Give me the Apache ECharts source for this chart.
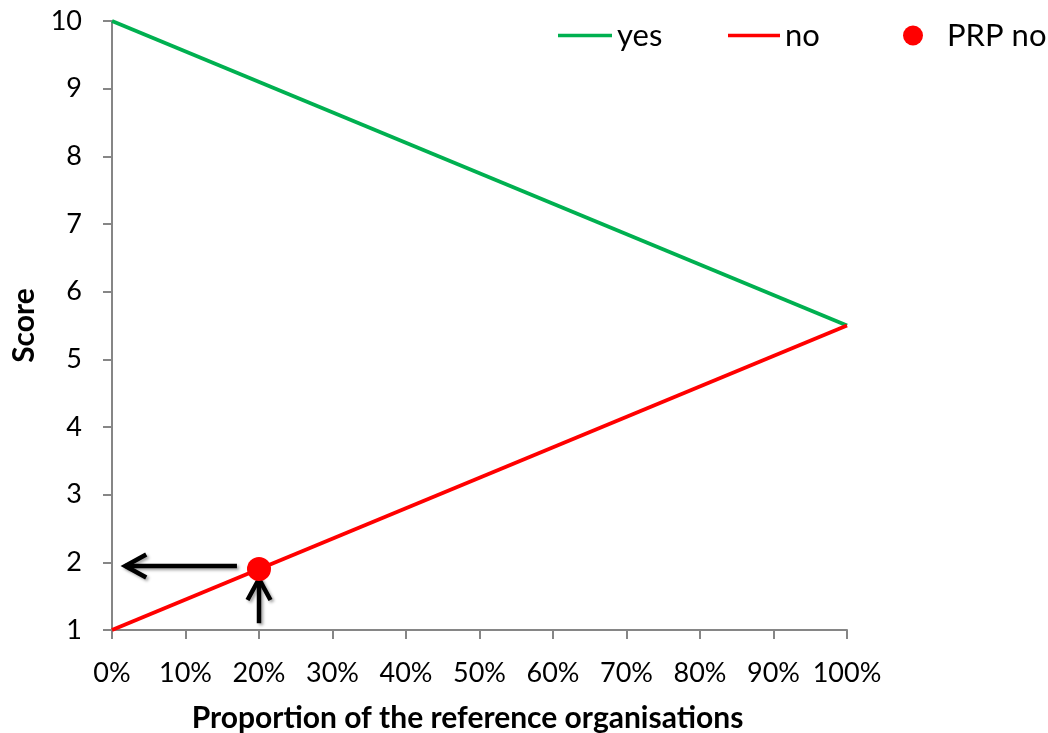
<!DOCTYPE html>
<html>
<head>
<meta charset="utf-8">
<script src="https://cdn.jsdelivr.net/npm/echarts@6/dist/echarts.min.js"></script>
<style>
html,body{margin:0;padding:0;background:#fff;}
#chart{width:1048px;height:733px;}
</style>
</head>
<body>
<div id="chart"></div>
<script>
// ---- data ----
const xPct = [0, 100];                 // proportion of reference organisations (%)
const yesScore = [10, 5.5];            // "yes" line
const noScore = [1, 5.5];              // "no" line
const prpNo = [20, 1.9];               // PRP no point [x%, score]
const arrowLines = [                   // annotation arrows [x1, y1, x2(tip), y2(tip)]
  [17, 1.946, 1.8, 1.946],
  [20, 1.10, 20, 1.754]
];
const xTickInterval = 10;
const yTickMin = 1, yTickMax = 10, yTickInterval = 1;
const seriesNames = ['yes', 'no', 'PRP no'];

const FONT = 'Lato';
const chart = echarts.init(document.getElementById('chart'), null, {renderer: 'canvas'});

function pairs(xs, ys){ return xs.map((x, i) => [x, ys[i]]); }

function renderArrow(params, api){
  const p1 = api.coord([api.value(0), api.value(1)]);
  const p2 = api.coord([api.value(2), api.value(3)]);
  const dx = p2[0] - p1[0], dy = p2[1] - p1[1];
  const len = Math.sqrt(dx*dx + dy*dy) || 1;
  const ux = dx/len, uy = dy/len;
  const nx = -uy, ny = ux;
  const L = 21, W = 11.5;
  const b1 = [p2[0] - ux*L + nx*W, p2[1] - uy*L + ny*W];
  const b2 = [p2[0] - ux*L - nx*W, p2[1] - uy*L - ny*W];
  const st = {stroke:'#000', lineWidth:4.5, fill:null, lineJoin:'miter', lineCap:'butt',
    shadowBlur:3, shadowColor:'rgba(0,0,0,0.35)', shadowOffsetX:2, shadowOffsetY:2};
  return {type:'group', children:[
    {type:'polyline', shape:{points:[p1, p2]}, style:st},
    {type:'polyline', shape:{points:[b1, p2, b2]}, style:st}
  ]};
}

const labelStyle = {fontFamily: FONT, fontSize: 27, color: '#000'};
const legendText = {fontFamily: FONT, fontSize: 31, color: '#000'};
const option = {
  animation: false,
  backgroundColor: '#fff',
  grid: {left: 112, right: 201, top: 21, bottom: 103, containLabel: false, outerBoundsMode: 'none'},
  legend: [
    {data:[{name: seriesNames[0], icon: 'rect'}], left:553, top:15, itemWidth:54, itemHeight:3.5, itemGap:0,
     textStyle: legendText},
    {data:[{name: seriesNames[1], icon: 'rect'}], left:723, top:15, itemWidth:52, itemHeight:3.5, itemGap:0,
     textStyle: legendText},
    {data:[{name: seriesNames[2], icon: 'circle'}], left:898, top:15, itemWidth:20, itemHeight:20, itemGap:0,
     textStyle: Object.assign({padding:[0,0,0,19]}, legendText)}
  ],
  xAxis: {
    type: 'value', min: xPct[0], max: xPct[xPct.length-1], interval: xTickInterval,
    name: 'Proportion of the reference organisations', nameLocation: 'middle', nameGap: 73,
    nameTextStyle: {fontFamily: FONT, fontSize: 30, fontWeight: 'bold', color: '#000', padding: [0, 24, 0, 0]},
    axisLine: {show: true, lineStyle: {color: '#868686', width: 2}},
    axisTick: {show: true, inside: false, length: 9, lineStyle: {color: '#868686', width: 2}},
    axisLabel: Object.assign({formatter: '{value}%', margin: 30}, labelStyle),
    splitLine: {show: false}
  },
  yAxis: {
    type: 'value', min: yTickMin, max: yTickMax, interval: yTickInterval,
    name: 'Score', nameLocation: 'middle', nameGap: 72, nameRotate: 90,
    nameTextStyle: {fontFamily: FONT, fontSize: 30, fontWeight: 'bold', color: '#000'},
    axisLine: {show: true, lineStyle: {color: '#868686', width: 2}},
    axisTick: {show: true, inside: false, length: 9, lineStyle: {color: '#868686', width: 2}},
    axisLabel: Object.assign({margin: 30}, labelStyle),
    splitLine: {show: false}
  },
  series: [
    {name: seriesNames[0], type: 'line', data: pairs(xPct, yesScore), symbol: 'none',
     lineStyle: {color: '#00B050', width: 4}, itemStyle: {color: '#00B050'}, z: 2},
    {name: seriesNames[1], type: 'line', data: pairs(xPct, noScore), symbol: 'none',
     lineStyle: {color: '#FF0000', width: 4}, itemStyle: {color: '#FF0000'}, z: 2},
    {type: 'custom', name: 'arrows', data: arrowLines, renderItem: renderArrow,
     encode: {x: [0, 2], y: [1, 3]}, z: 3, silent: true},
    {name: seriesNames[2], type: 'scatter', data: [prpNo], symbol: 'circle', symbolSize: 24,
     itemStyle: {color: '#FF0000', opacity: 1}, z: 4}
  ]
};
chart.setOption(option);
</script>
</body>
</html>
